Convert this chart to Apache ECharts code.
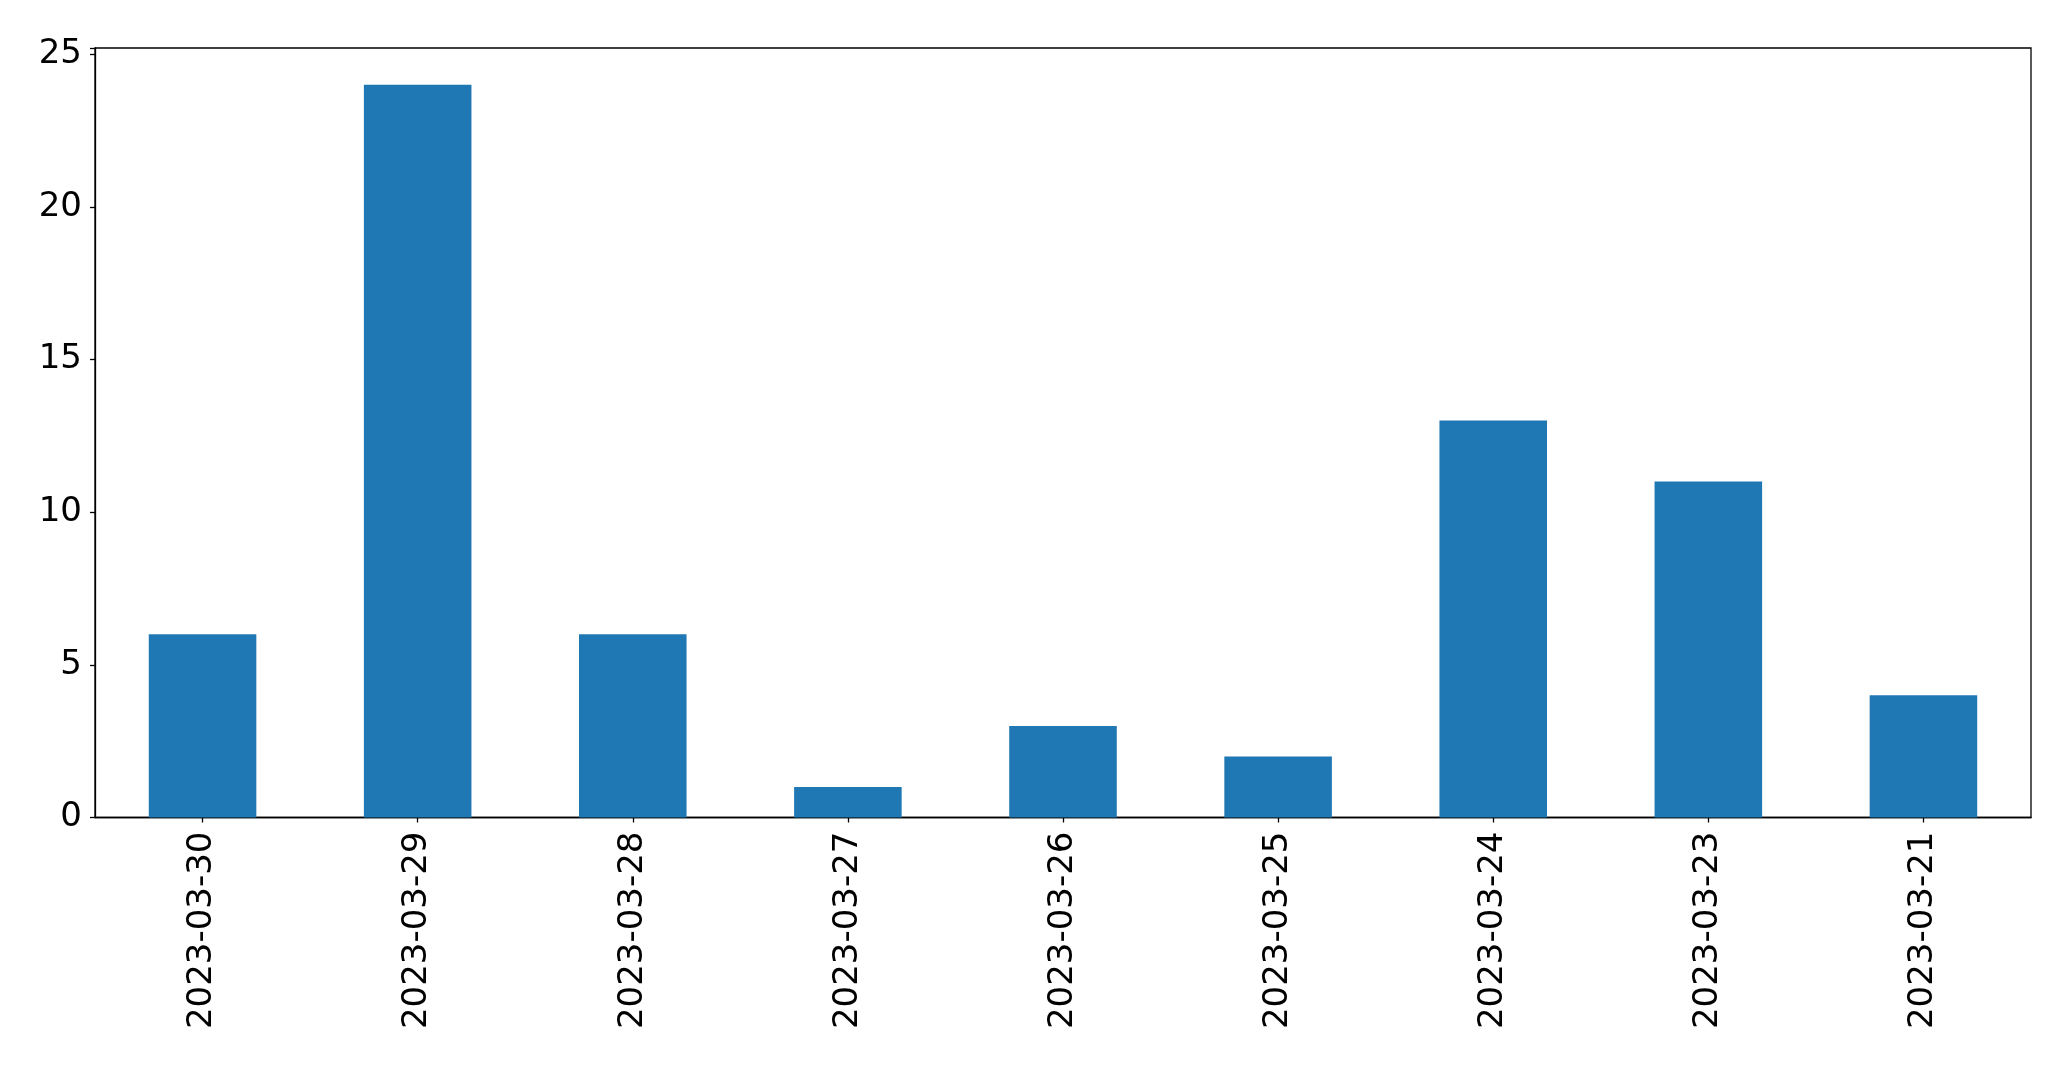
<!DOCTYPE html>
<html>
<head>
<meta charset="utf-8">
<script src="https://cdn.jsdelivr.net/npm/echarts@6/dist/echarts.min.js"></script>
<style>
html,body{margin:0;padding:0;background:#fff;}
#chart{width:2071px;height:1069px;}
</style>
</head>
<body>
<div id="chart"></div>
<script>
const categories = ["2023-03-30","2023-03-29","2023-03-28","2023-03-27","2023-03-26","2023-03-25","2023-03-24","2023-03-23","2023-03-21"];
const values = [6, 24, 6, 1, 3, 2, 13, 11, 4];
const yTicks = [0, 5, 10, 15, 20, 25];

const chart = echarts.init(document.getElementById('chart'), null, {renderer: 'canvas'});
const font = 'DejaVu Sans';
chart.setOption({
  animation: false,
  backgroundColor: '#ffffff',
  grid: {
    left: 95, top: 48, width: 1936, height: 769.5,
    show: true, borderColor: '#000', borderWidth: 1.3, backgroundColor: 'transparent'
  },
  xAxis: {
    type: 'category',
    data: categories,
    axisLine: {show: true, lineStyle: {color: '#000', width: 1.3}},
    axisTick: {show: true, alignWithLabel: true, length: 5, lineStyle: {color: '#000', width: 1.3}},
    axisLabel: {rotate: 90, margin: 14, fontFamily: font, fontSize: 34, color: '#000'},
    splitLine: {show: false}
  },
  yAxis: {
    type: 'value',
    min: 0, max: 25.2, interval: 5,
    axisLine: {show: true, lineStyle: {color: '#000', width: 1.3}},
    axisTick: {show: true, length: 5, lineStyle: {color: '#000', width: 1.3}},
    axisLabel: {
      margin: 13, fontFamily: font, fontSize: 34, color: '#000',
      formatter: function (v) { return yTicks.indexOf(v) >= 0 ? String(v) : ''; }
    },
    splitLine: {show: false}
  },
  series: [{
    type: 'bar',
    data: values,
    barWidth: '50%',
    itemStyle: {color: '#1f77b4'}
  }]
});
</script>
</body>
</html>
